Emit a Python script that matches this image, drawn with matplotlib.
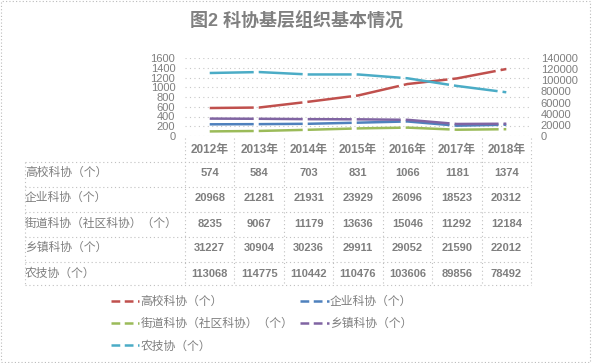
import numpy as np
import matplotlib
matplotlib.use("Agg")
import matplotlib.pyplot as plt
from matplotlib.lines import Line2D
from matplotlib.patches import Rectangle
import matplotlib.transforms as mtransforms

plt.rcParams['font.family'] = ['Liberation Sans', 'Noto Sans CJK SC', 'DejaVu Sans']

years = ['2012年', '2013年', '2014年', '2015年', '2016年', '2017年', '2018年']
names = ['高校科协（个）', '企业科协（个）', '街道科协（社区科协）（个）', '乡镇科协（个）', '农技协（个）']
gaoxiao = [574, 584, 703, 831, 1066, 1181, 1374]
qiye = [20968, 21281, 21931, 23929, 26096, 18523, 20312]
jiedao = [8235, 9067, 11179, 13636, 15046, 11292, 12184]
xiangzhen = [31227, 30904, 30236, 29911, 29052, 21590, 22012]
nongji = [113068, 114775, 110442, 110476, 103606, 89856, 78492]
series = [gaoxiao, qiye, jiedao, xiangzhen, nongji]
colors = ['#C0504D', '#4F81BD', '#9BBB59', '#8064A2', '#4BACC6']

W, H = 592, 363
grey = '#7f7f7f'
fig = plt.figure(figsize=(W / 100, H / 100), dpi=100)

def fy(py):
    return 1 - py / H

def fx(px):
    return px / W

ax = fig.add_axes([fx(185), fy(136), fx(531) - fx(185), fy(58) - fy(136)])
ax2 = ax.twinx()
x = np.arange(len(years))

lw = 1.8
ls = (19.6, (17.6, 2.0))
ax.plot(x, gaoxiao, color=colors[0], lw=lw, linestyle=ls)
for s, c in zip(series[1:], colors[1:]):
    ax2.plot(x, s, color=c, lw=lw, linestyle=ls)

ax.set_xlim(-0.5, len(years) - 0.5)
ax.set_ylim(0, 1600)
ax.set_yticks(np.arange(0, 1601, 200))
ax2.set_ylim(0, 140000)
ax2.set_yticks(np.arange(0, 140001, 20000))
ax.set_xticks([])
for a in (ax, ax2):
    for sp in a.spines.values():
        sp.set_visible(False)
    a.tick_params(length=0, labelsize=8, labelcolor=grey, pad=7)
ax.grid(axis='y', color='#c8c8c8', linestyle=(0, (1, 3)), lw=0.8)
ax.set_axisbelow(True)

# data table
trans = mtransforms.blended_transform_factory(ax.transData, fig.transFigure)
row_y = [150, 173, 198, 224, 248, 274]
for i, yr in enumerate(years):
    fig.text(i, fy(row_y[0]), yr, transform=trans, ha='center', va='center',
             fontsize=8.5, color=grey, fontweight='bold')
for r, (name, s) in enumerate(zip(names, series)):
    yy = fy(row_y[r + 1])
    fig.text(fx(25), yy, name, ha='left', va='center', fontsize=8.5, color=grey)
    for i, v in enumerate(s):
        fig.text(i, yy, str(v), transform=trans, ha='center', va='center',
                 fontsize=8, color=grey, fontweight='bold')

dot = dict(color='#c0c0c0', lw=0.8, linestyle=(0, (1, 2.5)))
for py in [162, 187, 212, 237, 262, 285]:
    fig.add_artist(Line2D([fx(25), fx(531)], [fy(py), fy(py)], **dot))
fig.add_artist(Line2D([fx(25), fx(25)], [fy(162), fy(285)], **dot))
for b in np.arange(len(years) + 1) - 0.5:
    fig.add_artist(Line2D([b, b], [fy(138), fy(285)], transform=trans, **dot))

# legend
handles = [Line2D([], [], color=c, lw=lw, linestyle=(0, (3.5, 1.8))) for c in colors]
order = [0, 2, 4, 1, 3]
leg = fig.legend([handles[i] for i in order], [names[i] for i in order],
                 loc='upper left', bbox_to_anchor=(fx(111), fy(296)), ncol=2,
                 frameon=False, fontsize=8.5, handlelength=2.4, handletextpad=0.1,
                 columnspacing=0.6, labelspacing=0.87, borderaxespad=0, borderpad=0)
for t in leg.get_texts():
    t.set_color(grey)

fig.text(0.5, fy(22), '图2 科协基层组织基本情况', ha='center', va='center',
         fontsize=13, fontweight='bold', color='#808080')

fig.add_artist(Rectangle((0.002, 0.003), 0.995, 0.994, transform=fig.transFigure,
                         fill=False, edgecolor='#bbbbbb', lw=0.8, linestyle=(0, (1, 2))))

fig.savefig('out.png', dpi=100)
